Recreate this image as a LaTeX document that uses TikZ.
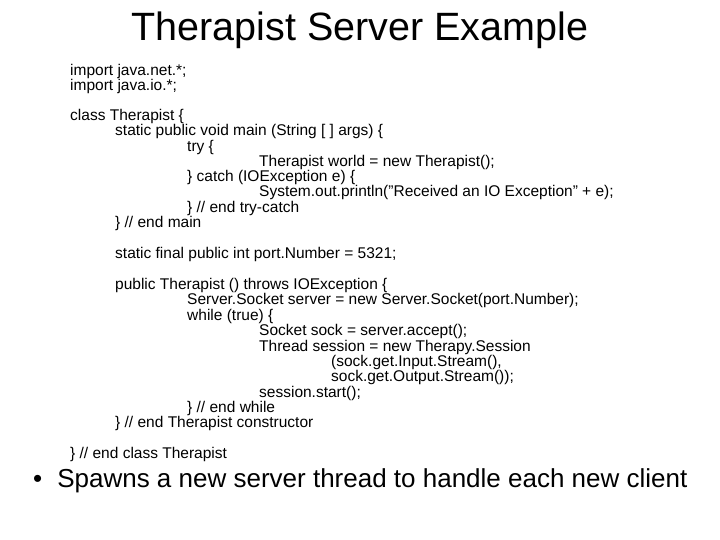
\documentclass[tikz,border=0pt]{standalone}
\usepackage{fontspec}
\setmainfont{Liberation Sans}
\begin{document}
\begin{tikzpicture}[x=1pt,y=-1pt,
  code/.style={anchor=west,inner sep=0pt,font=\fontsize{15.5}{17}\selectfont}]
\useasboundingbox (0,0) rectangle (720,540);
\node[inner sep=0pt,font=\fontsize{39.5}{44}\selectfont] (title) at (360,30) {Therapist Server Example};
\node[code] (l1) at (70,71) {import java.net.*;};
\node[code] (l2) at (70,86) {import java.io.*;};
\node[code] (l3) at (70,116) {class Therapist \{};
\node[code] (l4) at (115,131) {static public void main (String [ ] args) \{};
\node[code] (l5) at (187,147) {try \{};
\node[code] (l6) at (259,162) {Therapist world = new Therapist();};
\node[code] (l7) at (187,177) {\} catch (IOException e) \{};
\node[code] (l8) at (259,192) {System.out.println("Received an IO Exception" + e);};
\node[code] (l9) at (187,208) {\} // end try-catch};
\node[code] (l10) at (115,223) {\} // end main};
\node[code] (l11) at (115,254) {static final public int port.Number = 5321;};
\node[code] (l12) at (115,285) {public Therapist () throws IOException \{};
\node[code] (l13) at (187,300) {Server.Socket server = new Server.Socket(port.Number);};
\node[code] (l14) at (187,316) {while (true) \{};
\node[code] (l15) at (259,331) {Socket sock = server.accept();};
\node[code] (l16) at (259,347) {Thread session = new Therapy.Session};
\node[code] (l17) at (331,362) {(sock.get.Input.Stream(),};
\node[code] (l18) at (331,377) {sock.get.Output.Stream());};
\node[code] (l19) at (259,393) {session.start();};
\node[code] (l20) at (187,408) {\} // end while};
\node[code] (l21) at (115,423) {\} // end Therapist constructor};
\node[code] (l22) at (70,454) {\} // end class Therapist};
\node[anchor=west,inner sep=0pt,font=\fontsize{26}{30}\selectfont] (b) at (33,481) {•\hspace{15pt}Spawns a new server thread to handle each new client};
\end{tikzpicture}
\end{document}
